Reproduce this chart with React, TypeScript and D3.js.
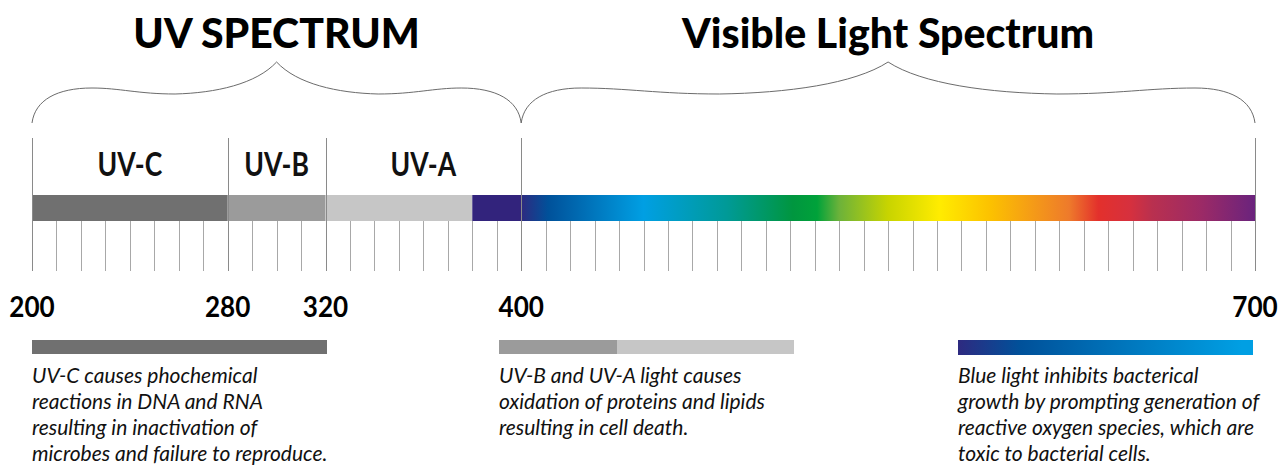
import React, { useEffect, useRef } from 'react'
import * as d3 from 'd3'

// wavelength marks (nm)
const boundaries = [200, 280, 320, 400, 700]
const minorStep = 10

const bandNames = ['UV-C', 'UV-B', 'UV-A']
const bandRanges: [number, number][] = [[200, 280], [280, 320], [320, 400]]

// solid part of the bar
const barRanges: [number, number][] = [[200, 280], [280, 320], [320, 380], [380, 400]]
const barColors = ['#707070', '#9b9b9b', '#c6c6c6', '#32237c']

// visible spectrum gradient stops
const spectrumNm = [400, 411, 450, 484, 511, 521, 530, 550, 571, 592, 624, 636, 649, 658, 678, 700]
const spectrumColors = [
    '#2e2a80', '#00519a', '#009fe3', '#009a97', '#00963f', '#00a23a', '#6cb23a', '#c8d400',
    '#ffec00', '#fcc100', '#ee7a2b', '#e3302c', '#d6303e', '#b9304f', '#9c2a66', '#6a237d',
]

const groupNames = ['UV SPECTRUM', 'Visible Light Spectrum']
const groupRanges: [number, number][] = [[200, 400], [400, 700]]

const noteLines = [
    ['UV-C causes phochemical', 'reactions in DNA and RNA', 'resulting in inactivation of', 'microbes and failure to reproduce.'],
    ['UV-B and UV-A light causes', 'oxidation of proteins and lipids', 'resulting in cell death.'],
    ['Blue light inhibits bacterical', 'growth by prompting generation of', 'reactive oxygen species, which are', 'toxic to bacterial cells.'],
]
// swatch above each note: solid shares, or a slice of the spectrum
const noteSwatchColors = [['#707070'], ['#9b9b9b', '#c6c6c6'], []]
const noteSwatchShares = [[1], [0.4, 0.6], []]
const noteSpectrumRange: [number, number] = [400, 452]

const App: React.FC = () => {
    const ref = useRef<SVGSVGElement | null>(null)

    useEffect(() => {
        if (!ref.current) return
        document.body.style.margin = '0'
        const width = 1280
        const height = 468
        const svg = d3.select(ref.current)
        svg.selectAll('*').remove()
        svg.attr('width', width).attr('height', height).attr('viewBox', `0 0 ${width} ${height}`)

        const x = d3.scaleLinear().domain([200, 700]).range([32, 1255])
        const font = 'Lato, "Noto Sans", sans-serif'

        const barTop = 195
        const barBottom = 221
        const tickBottom = 271
        const lineTop = 138

        const defs = svg.append('defs')
        const grad = defs.append('linearGradient')
            .attr('id', 'spectrum')
            .attr('gradientUnits', 'userSpaceOnUse')
            .attr('x1', x(400)).attr('x2', x(700)).attr('y1', 0).attr('y2', 0)
        grad.selectAll('stop')
            .data(spectrumNm)
            .enter()
            .append('stop')
            .attr('offset', d => (d - 400) / 300)
            .attr('stop-color', (d, i) => spectrumColors[i])

        // titles + braces
        const brace = (a: number, b: number) => {
            const half = (b - a) / 2
            const yEnd = 123, yShoulder = 88, ySag = 94, yPeak = 62
            const side = (s: number, x0: number) => {
                const sx = (dx: number) => x0 + s * dx
                const sag = 60 + 0.45 * (half - 60)
                const rest = half - sag
                return [
                    `M${sx(0)},${yEnd}`,
                    `C${sx(3)},100 ${sx(25)},${yShoulder} ${sx(60)},${yShoulder}`,
                    `C${sx(60 + 0.15 * (half - 60))},${yShoulder} ${sx(60 + 0.25 * (half - 60))},${ySag} ${sx(sag)},${ySag}`,
                    `C${sx(sag + 0.4 * rest)},${ySag - 1} ${sx(half - 0.2 * rest)},84 ${sx(half)},${yPeak}`,
                ].join(' ')
            }
            return side(1, a) + ' ' + side(-1, b)
        }

        const groups = svg.append('g')
        groupRanges.forEach((r, i) => {
            groups.append('path')
                .attr('d', brace(x(r[0]), x(r[1])))
                .attr('fill', 'none')
                .attr('stroke', '#6b6b6b')
                .attr('stroke-width', 1)
            groups.append('text')
                .attr('x', (x(r[0]) + x(r[1])) / 2)
                .attr('y', 48)
                .attr('text-anchor', 'middle')
                .style('font-family', font)
                .style('font-weight', '900')
                .style('font-size', '41px')
                .style('fill', '#000')
                .text(groupNames[i])
        })

        // bar
        svg.append('g')
            .selectAll('rect')
            .data(barRanges)
            .enter()
            .append('rect')
            .attr('x', d => x(d[0]))
            .attr('width', d => x(d[1]) - x(d[0]))
            .attr('y', barTop)
            .attr('height', barBottom - barTop)
            .attr('fill', (d, i) => barColors[i])
        svg.append('rect')
            .attr('x', x(400))
            .attr('width', x(700) - x(400))
            .attr('y', barTop)
            .attr('height', barBottom - barTop)
            .attr('fill', 'url(#spectrum)')

        // minor ticks
        svg.append('g')
            .selectAll('line')
            .data(d3.range(200, 701, minorStep).filter(v => !boundaries.includes(v)))
            .enter()
            .append('line')
            .attr('x1', d => Math.round(x(d)) + 0.5)
            .attr('x2', d => Math.round(x(d)) + 0.5)
            .attr('y1', barBottom)
            .attr('y2', tickBottom)
            .attr('stroke', '#a8a8a8')
            .attr('stroke-width', 1)

        // boundary lines and numbers (condensed by a horizontal squeeze)
        const bounds = svg.append('g')
        bounds.selectAll('line')
            .data(boundaries)
            .enter()
            .append('line')
            .attr('x1', d => Math.round(x(d)) + 0.5)
            .attr('x2', d => Math.round(x(d)) + 0.5)
            .attr('y1', lineTop)
            .attr('y2', tickBottom)
            .attr('stroke', '#8a8a8a')
            .attr('stroke-width', 1)
        bounds.selectAll('text')
            .data(boundaries)
            .enter()
            .append('text')
            .attr('transform', d => `translate(${x(d)},317) scale(0.9,1)`)
            .attr('text-anchor', 'middle')
            .style('font-family', font)
            .style('font-weight', '700')
            .style('font-size', '29px')
            .style('fill', '#000')
            .text(d => d)

        // band names
        svg.append('g')
            .selectAll('text')
            .data(bandNames)
            .enter()
            .append('text')
            .attr('transform', (d, i) => `translate(${(x(bandRanges[i][0]) + x(bandRanges[i][1])) / 2},176) scale(0.83,1)`)
            .attr('text-anchor', 'middle')
            .style('font-family', font)
            .style('font-weight', '700')
            .style('font-size', '32px')
            .style('fill', '#111')
            .text(d => d)

        // notes
        const noteX = [32, 499, 958]
        const swatchW = 295
        const swatchY = 340
        const swatchH = 14
        const blueGrad = defs.append('linearGradient')
            .attr('id', 'blue')
            .attr('gradientUnits', 'userSpaceOnUse')
            .attr('x1', 0).attr('x2', swatchW).attr('y1', 0).attr('y2', 0)
        const span = noteSpectrumRange[1] - noteSpectrumRange[0]
        spectrumNm.forEach((nm, i) => {
            if (nm < noteSpectrumRange[0] || nm > noteSpectrumRange[1]) return
            blueGrad.append('stop')
                .attr('offset', (nm - noteSpectrumRange[0]) / span)
                .attr('stop-color', spectrumColors[i])
        })

        noteLines.forEach((lines, i) => {
            const g = svg.append('g').attr('transform', `translate(${noteX[i]},0)`)
            if (noteSwatchColors[i].length) {
                let acc = 0
                noteSwatchColors[i].forEach((c, j) => {
                    const w = noteSwatchShares[i][j] * swatchW
                    g.append('rect')
                        .attr('x', acc).attr('y', swatchY)
                        .attr('width', w).attr('height', swatchH)
                        .attr('fill', c)
                    acc += w
                })
            } else {
                g.append('rect')
                    .attr('x', 0).attr('y', swatchY)
                    .attr('width', swatchW).attr('height', swatchH + 1)
                    .attr('fill', 'url(#blue)')
            }
            g.selectAll('text.note')
                .data(lines)
                .enter()
                .append('text')
                .attr('class', 'note')
                .attr('x', 0)
                .attr('y', (d, k) => 383 + k * 26)
                .style('font-family', font)
                .style('font-style', 'italic')
                .style('font-size', '21px')
                .style('fill', '#111')
                .text(d => d)
        })
    }, [])

    return <svg ref={ref} style={{ position: 'absolute', left: 0, top: 0, background: '#fff' }}></svg>
}

export default App
